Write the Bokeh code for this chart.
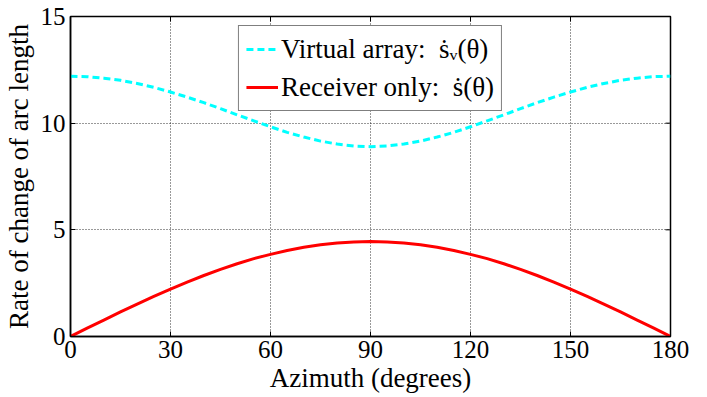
from bokeh.plotting import figure
from bokeh.embed import file_html
from bokeh.resources import INLINE
from bokeh.models import FixedTicker, Legend, LegendItem

azimuth = [0, 5, 10, 15, 20, 25, 30, 35, 40, 45, 50, 55, 60, 65, 70, 75, 80, 85, 90,
           95, 100, 105, 110, 115, 120, 125, 130, 135, 140, 145, 150, 155, 160, 165, 170, 175, 180]
virtual_array = [12.20, 12.18, 12.11, 12.01, 11.86, 11.68, 11.46, 11.22, 10.96, 10.68, 10.39, 10.11, 9.83, 9.57, 9.35, 9.16, 9.02, 8.93, 8.90,
                 8.93, 9.02, 9.16, 9.35, 9.57, 9.83, 10.11, 10.39, 10.68, 10.96, 11.22, 11.46, 11.68, 11.86, 12.01, 12.11, 12.18, 12.20]
receiver_only = [0.00, 0.39, 0.77, 1.15, 1.52, 1.88, 2.22, 2.55, 2.86, 3.15, 3.41, 3.65, 3.85, 4.03, 4.18, 4.30, 4.38, 4.43, 4.45,
                 4.43, 4.38, 4.30, 4.18, 4.03, 3.85, 3.65, 3.41, 3.15, 2.86, 2.55, 2.22, 1.88, 1.52, 1.15, 0.77, 0.39, 0.00]
x_ticks = [0, 30, 60, 90, 120, 150, 180]
y_ticks = [0, 5, 10, 15]

FONT = "Liberation Serif"
X_MIN, X_MAX, Y_MIN, Y_MAX = 0, 180, 0, 15
FW, FH = 600, 320

p = figure(frame_width=FW, frame_height=FH, x_range=(X_MIN, X_MAX), y_range=(Y_MIN, Y_MAX),
           output_backend="svg", toolbar_location=None,
           min_border_left=70, min_border_top=16, min_border_right=30, min_border_bottom=55)

r1 = p.line(azimuth, virtual_array, line_color="#00FFFF", line_width=3, line_dash="7 4")
r2 = p.line(azimuth, receiver_only, line_color="#FF0000", line_width=3)

# inward ticks on the top and right edges of the box (5 px long)
tick_px = 5
dy = tick_px * (Y_MAX - Y_MIN) / FH
dx = tick_px * (X_MAX - X_MIN) / FW
p.segment(x0=x_ticks, x1=x_ticks, y0=[Y_MAX] * len(x_ticks), y1=[Y_MAX - dy] * len(x_ticks),
          line_color="black", line_width=1)
p.segment(x0=[X_MAX] * len(y_ticks), x1=[X_MAX - dx] * len(y_ticks), y0=y_ticks, y1=y_ticks,
          line_color="black", line_width=1)

p.xaxis.ticker = FixedTicker(ticks=x_ticks)
p.yaxis.ticker = FixedTicker(ticks=y_ticks)
p.xaxis.axis_label = "Azimuth (degrees)"
p.yaxis.axis_label = "Rate of change of arc length"

for ax in (p.xaxis[0], p.yaxis[0]):
    ax.axis_label_text_font = FONT
    ax.axis_label_text_font_style = "normal"
    ax.axis_label_text_color = "black"
    ax.axis_label_text_font_size = "27px"
    ax.major_label_text_font = FONT
    ax.major_label_text_font_size = "25px"
    ax.major_label_text_color = "black"
    ax.major_tick_in = 5
    ax.major_tick_out = 0
    ax.minor_tick_in = 0
    ax.minor_tick_out = 0
    ax.axis_line_color = "black"
    ax.axis_line_width = 1.5
    ax.major_tick_line_color = "black"

p.xaxis.major_label_standoff = 4
p.yaxis.major_label_standoff = 5
p.xaxis.axis_label_standoff = 2
p.yaxis.axis_label_standoff = 4

p.outline_line_color = "black"
p.outline_line_width = 1.5
p.outline_line_alpha = 1

for g in (p.xgrid, p.ygrid):
    g.grid_line_color = "black"
    g.grid_line_dash = "1 2"
    g.grid_line_alpha = 0.8
    g.grid_line_width = 1

legend = Legend(items=[
    LegendItem(label="Virtual array:  \u1e61\u1d65(\u03b8)", renderers=[r1]),
    LegendItem(label="Receiver only:  \u1e61(\u03b8)", renderers=[r2]),
], location="top_center")
legend.label_text_font = FONT
legend.label_text_font_size = "27px"
legend.label_text_color = "black"
legend.glyph_width = 32
legend.glyph_height = 32
legend.label_height = 32
legend.border_line_color = "black"
legend.border_line_width = 1
legend.margin = 9
legend.padding = 7
legend.spacing = 6
legend.label_standoff = 3
legend.background_fill_alpha = 1
p.add_layout(legend, "center")

open("out.html", "w").write(file_html(p, INLINE))
